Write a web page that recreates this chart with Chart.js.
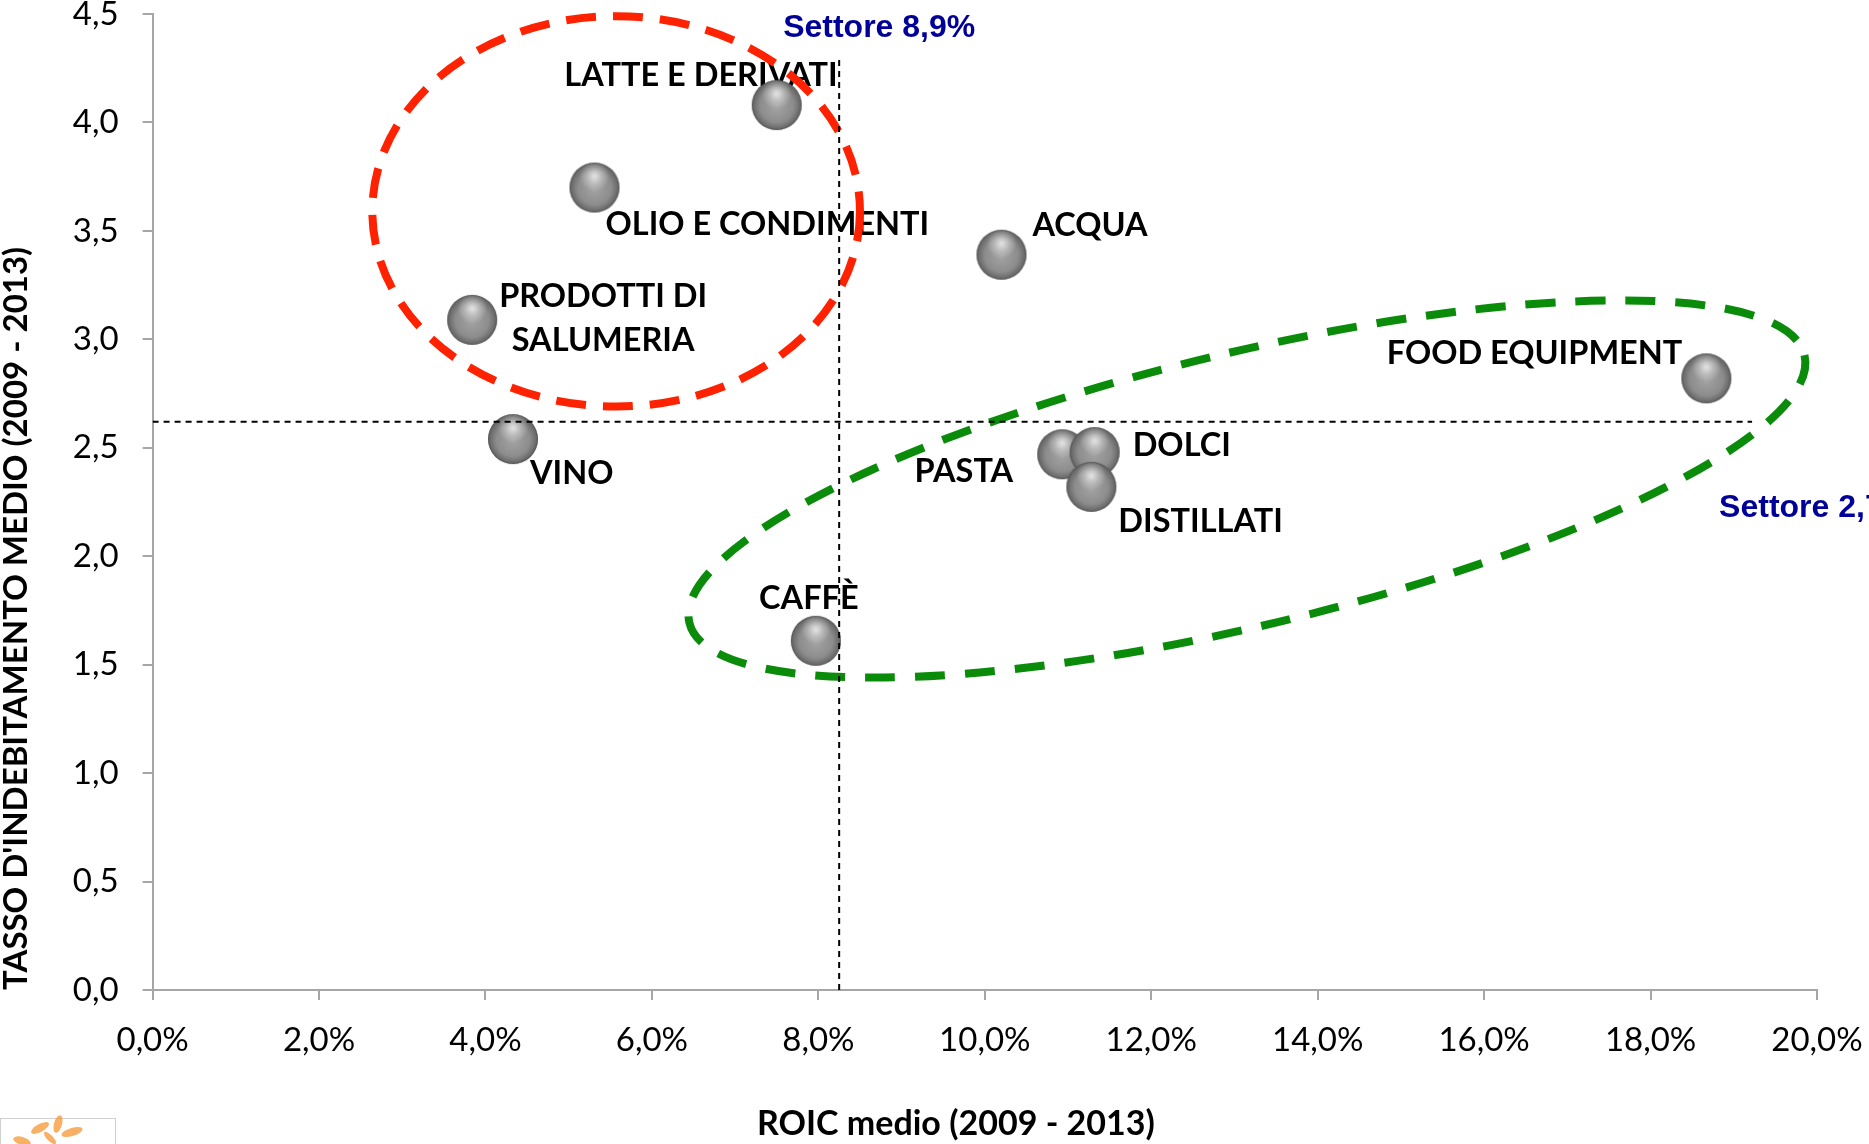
<!DOCTYPE html>
<html>
<head>
<meta charset="utf-8">
<title>ROIC medio vs tasso di indebitamento</title>
<script src="https://cdn.jsdelivr.net/npm/chart.js@4.4.1/dist/chart.umd.min.js"></script>
<style>
  html, body { margin: 0; padding: 0; background: #fff; }
  #wrap { width: 1869px; height: 1144px; }
</style>
</head>
<body>
<div id="wrap"><canvas id="chart" width="1869" height="1144"></canvas></div>
<script>
// dati
const comparti = ['LATTE E DERIVATI', 'OLIO E CONDIMENTI', 'ACQUA', ['PRODOTTI DI', 'SALUMERIA'],
  'FOOD EQUIPMENT', 'VINO', 'PASTA', 'DOLCI', 'DISTILLATI', 'CAFFÈ'];
const roic = [7.5, 5.31, 10.2, 3.84, 18.67, 4.33, 10.93, 11.32, 11.28, 7.97];
const indebitamento = [4.08, 3.70, 3.39, 3.09, 2.82, 2.54, 2.47, 2.48, 2.32, 1.61];

// linee di settore (come disegnate)
const settoreRoic = 8.25;
const settoreRoicTop = 4.30;
const settoreDebito = 2.62;
const settoreDebitoEnd = 19.22;

const xTicks = [0, 2, 4, 6, 8, 10, 12, 14, 16, 18, 20];
const yTicks = [0, 0.5, 1, 1.5, 2, 2.5, 3, 3.5, 4, 4.5];

// posizione etichette rispetto al punto (px)
const labelOffsets = [
  { dx: 61, dy: -30, align: 'right' },
  { dx: 11, dy: 37, align: 'left' },
  { dx: 31, dy: -29, align: 'left' },
  { dx: 131, dy: -23, align: 'center' },
  { dx: -24, dy: -25, align: 'right' },
  { dx: 17, dy: 34, align: 'left' },
  { dx: -49, dy: 17, align: 'right' },
  { dx: 38, dy: -7, align: 'left' },
  { dx: 27, dy: 35, align: 'left' },
  { dx: -7, dy: -42, align: 'center' }
];

// cerchi tratteggiati
const ellipses = [
  { cx: 5.57, cy: 3.59, rx: 2.93, ry: 0.90, rot: 0, color: '#ff2200', dash: [30, 17] },
  { cx: 13.15, cy: 2.31, rx: 6.89, ry: 0.63, rot: -13.5, color: '#0a8c0a', dash: [30, 20] }
];

const fmt = (v, d) => v.toFixed(d).replace('.', ',');

// sfera grigia usata come pointStyle
function makeSphere(r) {
  const c = document.createElement('canvas');
  c.width = c.height = r * 2 + 4;
  const g = c.getContext('2d');
  const m = r + 2;
  let grd = g.createRadialGradient(m, m + 2, 1, m, m, r);
  grd.addColorStop(0, '#a2a2a2');
  grd.addColorStop(0.65, '#8d8d8d');
  grd.addColorStop(0.88, '#707070');
  grd.addColorStop(1, '#5c5c5c');
  g.fillStyle = grd;
  g.beginPath(); g.arc(m, m, r, 0, Math.PI * 2); g.fill();
  grd = g.createRadialGradient(m, m - r * 0.45, 1, m, m - r * 0.45, r * 0.6);
  grd.addColorStop(0, 'rgba(255,255,255,0.7)');
  grd.addColorStop(0.5, 'rgba(255,255,255,0.3)');
  grd.addColorStop(1, 'rgba(255,255,255,0)');
  g.fillStyle = grd;
  g.beginPath(); g.arc(m, m, r, 0, Math.PI * 2); g.fill();
  g.strokeStyle = 'rgba(80,80,80,0.5)';
  g.lineWidth = 1;
  g.beginPath(); g.arc(m, m, r - 0.5, 0, Math.PI * 2); g.stroke();
  return c;
}
const sphere = makeSphere(25);

const decor = {
  id: 'decor',
  beforeDatasetsDraw(chart) {
    const { ctx, scales: { x, y } } = chart;
    ctx.save();
    // etichette
    ctx.font = 'bold 32.5px Lato';
    ctx.fillStyle = '#000';
    ctx.textBaseline = 'middle';
    comparti.forEach((name, i) => {
      const o = labelOffsets[i];
      const px = x.getPixelForValue(roic[i]) + o.dx;
      const py = y.getPixelForValue(indebitamento[i]) + o.dy;
      ctx.textAlign = o.align;
      const lines = Array.isArray(name) ? name : [name];
      lines.forEach((t, k) => ctx.fillText(t, px, py + k * 44));
    });
    // ellissi
    ellipses.forEach(e => {
      const cx = x.getPixelForValue(e.cx), cy = y.getPixelForValue(e.cy);
      const rx = Math.abs(x.getPixelForValue(e.cx + e.rx) - cx);
      const ry = Math.abs(y.getPixelForValue(e.cy + e.ry) - cy);
      ctx.strokeStyle = e.color;
      ctx.lineWidth = 8;
      ctx.setLineDash(e.dash);
      ctx.beginPath();
      ctx.ellipse(cx, cy, rx, ry, e.rot * Math.PI / 180, 0, Math.PI * 2);
      ctx.stroke();
    });
    ctx.restore();
  },
  afterDatasetsDraw(chart) {
    const { ctx, scales: { x, y } } = chart;
    ctx.save();
    ctx.font = 'bold 32px "Liberation Sans"';
    ctx.fillStyle = '#000099';
    ctx.textBaseline = 'middle';
    ctx.textAlign = 'left';
    ctx.fillText('Settore 8,9%', x.getPixelForValue(settoreRoic) - 56, y.getPixelForValue(4.5) + 14);
    ctx.fillText('Settore 2,7', x.getPixelForValue(settoreDebitoEnd) - 33, y.getPixelForValue(settoreDebito) + 86);
    ctx.restore();
  },
  afterDraw(chart) {
    // piccolo logo in basso a sinistra
    const ctx = chart.ctx;
    ctx.save();
    ctx.strokeStyle = '#d0d0d0';
    ctx.lineWidth = 1;
    ctx.strokeRect(0.5, 1118.5, 115, 40);
    ctx.fillStyle = 'rgba(245,150,50,0.75)';
    [[40, 1128, 10, 4, -0.5], [58, 1124, 9, 4, -1.3], [72, 1132, 11, 4, -0.3], [22, 1141, 9, 4, 0.3], [50, 1138, 8, 3, 0.8]]
      .forEach(([lx, ly, a, b, r]) => {
        ctx.beginPath(); ctx.ellipse(lx, ly, a, b, r, 0, Math.PI * 2); ctx.fill();
      });
    ctx.restore();
  }
};

const axisColor = '#a6a6a6';

new Chart(document.getElementById('chart'), {
  type: 'scatter',
  data: {
    datasets: [
      {
        data: [{ x: settoreRoic, y: 0 }, { x: settoreRoic, y: settoreRoicTop }],
        showLine: true, borderColor: '#000', borderWidth: 2, borderDash: [6, 5],
        pointRadius: 0
      },
      {
        data: [{ x: 0, y: settoreDebito }, { x: settoreDebitoEnd, y: settoreDebito }],
        showLine: true, borderColor: '#000', borderWidth: 2, borderDash: [6, 5],
        pointRadius: 0
      },
      {
        data: roic.map((v, i) => ({ x: v, y: indebitamento[i] })),
        pointStyle: sphere,
        pointRadius: 25
      }
    ]
  },
  options: {
    responsive: false,
    animation: false,
    layout: { autoPadding: false, padding: { top: 14, right: 52, left: 0, bottom: 0 } },
    plugins: { legend: { display: false }, tooltip: { enabled: false } },
    scales: {
      x: {
        type: 'linear', min: 0, max: 20,
        afterBuildTicks: s => { s.ticks = xTicks.map(v => ({ value: v })); },
        afterFit: s => { s.height = 154; s.paddingLeft = 0; s.paddingRight = 0; },
        grid: { drawOnChartArea: false, color: axisColor, lineWidth: 2, tickLength: 10 },
        border: { color: axisColor, width: 2 },
        ticks: {
          color: '#000', padding: 21, maxRotation: 0,
          font: { family: 'Lato', size: 33 },
          callback: v => fmt(v, 1) + '%'
        },
        title: {
          display: true, text: 'ROIC medio (2009 - 2013)       ', color: '#000',
          font: { family: 'Lato', size: 34, weight: 'bold', lineHeight: 1 },
          padding: { top: 0, bottom: 3 }
        }
      },
      y: {
        type: 'linear', min: 0, max: 4.5,
        afterBuildTicks: s => { s.ticks = yTicks.map(v => ({ value: v })); },
        afterFit: s => { s.width = 152.6; s.paddingTop = 0; s.paddingBottom = 0; },
        grid: { drawOnChartArea: false, color: axisColor, lineWidth: 2, tickLength: 10 },
        border: { color: axisColor, width: 2 },
        ticks: {
          color: '#000', padding: 24,
          font: { family: 'Lato', size: 33, lineHeight: 0.8 },
          callback: v => fmt(v, 1)
        },
        title: {
          display: true, text: "TASSO D'INDEBITAMENTO MEDIO (2009 - 2013)", color: '#000',
          align: 'start',
          font: { family: 'Lato', size: 33, weight: 'bold', lineHeight: 1 },
          padding: { top: 0, bottom: 0 }
        }
      }
    }
  },
  plugins: [decor]
});
</script>
</body>
</html>
